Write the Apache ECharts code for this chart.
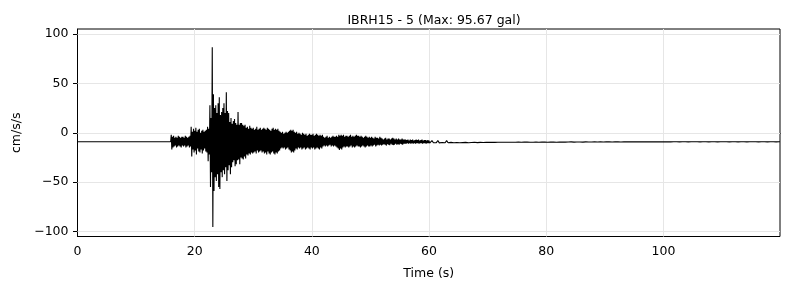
<!DOCTYPE html>
<html>
<head>
<meta charset="utf-8">
<script src="https://cdn.jsdelivr.net/npm/echarts@6/dist/echarts.min.js"></script>
<style>
html,body{margin:0;padding:0;background:#fff;}
#c{width:790px;height:290px;}
</style>
</head>
<body>
<div id="c"></div>
<script>
// ---- data ----
const titleText = 'IBRH15 - 5 (Max: 95.67 gal)';
const xTicks = [0, 20, 40, 60, 80, 100];
const yTicks = [-100, -50, 0, 50, 100];
const xMax = 119.9;
const yLim = 105.2;
const baseline = -9.1;          // pre-event level (cm/s/s)
const onsetTime = 15.9;

// strong-motion part: peaks (hi) and troughs (lo) every 0.2 s from 16.0 s to 60.0 s
const segA_t0 = 16.0, segA_dt = 0.2;
const segA_hi = [
  -2, -4, -3, -5, -4, -5, -3, -4, -5, -4,
  -4, -5, -3, -4, -5, -4, -3, 6, 1, 4,
  2, 5, 1, 3, 4, 0, 2, 3, 1, 2,
  3, 6, 4, 28, 15, 86.6, 39, 25, 28, 20,
  30, 36, 18, 21, 25, 30, 20, 41, 22, 20,
  11, 15, 9, 12, 14, 10, 8, 21, 8, 10,
  10, 8, 7, 8, 5, 6, 4, 7, 5, 4,
  5, 3, 4, 6, 3, 4, 5, 3, 4, 5,
  4, 3, 5, 4, 3, 2, 4, 5, 3, 4,
  3, 4, 2, 1, 0, 1, -1, 0, 1, 0,
  1, 2, 3, 2, 3, 1, 0, 1, -1, 0,
  -1, -2, 0, -1, -2, -1, -3, -2, -1, -2,
  -2, -1, -3, -2, -1, -2, -3, -2, -3, -2,
  -4, -5, -4, -3, -5, -4, -5, -4, -3, -4,
  -4, -3, -4, -2, -3, -2, -3, -2, -4, -3,
  -3, -4, -3, -2, -4, -3, -4, -3, -2, -3,
  -3, -4, -3, -4, -5, -4, -3, -4, -5, -4,
  -5, -4, -5, -6, -4, -5, -5, -6, -4, -5,
  -6, -7, -6, -5, -7, -6, -6, -7, -6, -5,
  -6, -7, -6, -7, -6, -7, -7, -6, -7, -7,
  -7, -7.5, -7, -8, -7, -7.5, -7, -8, -7.5, -7,
  -7.5, -7, -8, -7.5, -7, -8, -7.5, -7.5, -8, -7.5,
  -8
];
const segA_lo = [
  -17, -15, -14, -13, -15, -14, -13, -14, -15, -13,
  -14, -13, -15, -14, -13, -15, -14, -24, -17, -20,
  -18, -22, -16, -19, -20, -17, -21, -18, -16, -19,
  -20, -29, -22, -55, -40, -95.67, -59, -45, -49, -42,
  -55, -57, -40, -45, -38, -42, -35, -49, -38, -33,
  -42, -35, -30, -28, -34, -32, -28, -27, -32, -25,
  -26, -27, -24, -26, -22, -23, -21, -22, -20, -21,
  -20, -19, -21, -18, -20, -19, -18, -20, -19, -21,
  -20, -22, -19, -21, -22, -20, -19, -21, -22, -20,
  -21, -19, -18, -16, -15, -16, -15, -17, -16, -15,
  -17, -18, -20, -19, -20, -18, -16, -17, -15, -16,
  -15, -17, -16, -15, -17, -16, -15, -16, -17, -15,
  -16, -15, -17, -16, -15, -16, -17, -15, -16, -14,
  -13, -14, -13, -14, -13, -12, -14, -13, -14, -13,
  -14, -15, -16, -17.5, -16, -17, -15, -14, -15, -14,
  -14, -15, -14, -13, -15, -14, -15, -14, -13, -14,
  -14, -15, -14, -13, -14, -15, -14, -13, -14, -14,
  -13, -14, -13, -12, -14, -13, -12, -13, -12, -13,
  -12, -11.5, -12, -13, -11.5, -12, -12.5, -11, -12, -12.5,
  -12, -11, -12, -11.5, -12, -11, -11.5, -12, -11, -11,
  -11, -10.5, -11, -10.5, -11, -10.5, -11, -10.5, -11, -10.5,
  -10.5, -11, -10.5, -10.5, -11, -10.5, -10.5, -11, -10.5, -10.5,
  -10.5
];

// coda: peaks/troughs every 0.5 s from 60.5 s to 119.5 s
const segB_t0 = 60.5, segB_dt = 0.5;
const segB_hi = [
  -8.0, -8.2, -7.9, -8.3, -8.1, -8.0, -8.4, -8.1, -8.2, -8.0,
  -8.2, -8.4, -8.1, -8.3, -8.5, -8.2, -8.4, -8.3, -8.5, -8.4,
  -8.5, -8.4, -8.6, -8.5, -8.6, -8.5, -8.6, -8.6, -8.5, -8.7,
  -8.6, -8.7, -8.7, -8.6, -8.6, -8.7, -8.6, -8.7, -8.8, -8.6,
  -8.7, -8.8, -8.6, -8.7, -8.8, -8.7, -8.8, -8.9, -8.7, -8.8,
  -8.8, -8.7, -8.9, -8.8, -8.8, -8.9, -8.8, -8.9, -8.8, -8.9,
  -8.9, -8.8, -8.9, -8.9, -8.8, -8.9, -9.0, -8.9, -8.9, -8.9,
  -8.9, -9.0, -8.9, -8.9, -9.0, -8.9, -9.0, -8.9, -9.0, -8.9,
  -9.0, -8.95, -9.0, -9.0, -8.95, -9.0, -9.0, -8.95, -9.0, -9.0,
  -9.0, -8.95, -9.0, -9.0, -8.95, -9.0, -9.0, -8.95, -9.0, -9.0,
  -9.0, -8.95, -9.0, -9.0, -8.95, -9.0, -9.0, -8.95, -9.0, -9.0,
  -9.0, -8.95, -9.0, -9.0, -8.95, -9.0, -9.0, -8.95, -9.0
];
const segB_lo = [
  -10.2, -10.0, -10.3, -9.9, -10.1, -10.2, -9.8, -10.1, -10.0, -10.2,
  -10.0, -9.8, -10.1, -9.9, -9.7, -10.0, -9.8, -9.9, -9.7, -9.8,
  -9.7, -9.8, -9.6, -9.7, -9.6, -9.7, -9.6, -9.6, -9.7, -9.5,
  -9.6, -9.5, -9.5, -9.6, -9.6, -9.5, -9.6, -9.5, -9.4, -9.6,
  -9.5, -9.4, -9.6, -9.5, -9.4, -9.5, -9.4, -9.3, -9.5, -9.4,
  -9.4, -9.5, -9.3, -9.4, -9.4, -9.3, -9.4, -9.3, -9.4, -9.3,
  -9.3, -9.4, -9.3, -9.3, -9.4, -9.3, -9.2, -9.3, -9.3, -9.3,
  -9.3, -9.2, -9.3, -9.3, -9.2, -9.3, -9.2, -9.3, -9.2, -9.3,
  -9.2, -9.25, -9.2, -9.2, -9.25, -9.2, -9.2, -9.25, -9.2, -9.2,
  -9.2, -9.25, -9.2, -9.2, -9.25, -9.2, -9.2, -9.25, -9.2, -9.2,
  -9.2, -9.25, -9.2, -9.2, -9.25, -9.2, -9.2, -9.25, -9.2, -9.2,
  -9.2, -9.25, -9.2, -9.2, -9.25, -9.2, -9.2, -9.25, -9.2
];

// ---- build the trace ----
const trace = [[0, baseline], [onsetTime, baseline]];
function addSeg(t0, dt, hi, lo) {
  for (let i = 0; i < hi.length; i++) {
    const t = t0 + i * dt;
    trace.push([+t.toFixed(3), hi[i]]);
    trace.push([+(t + dt / 2).toFixed(3), lo[i]]);
  }
}
addSeg(segA_t0, segA_dt, segA_hi, segA_lo);
addSeg(segB_t0, segB_dt, segB_hi, segB_lo);
trace.push([xMax, baseline]);

const font = 'DejaVu Sans';
const chart = echarts.init(document.getElementById('c'), null, {renderer: 'canvas'});
chart.setOption({
  animation: false,
  backgroundColor: '#fff',
  title: {
    text: titleText,
    left: 429,
    top: 9,
    textAlign: 'center',
    textStyle: {fontFamily: font, fontSize: 12.5, fontWeight: 'normal', color: '#000'}
  },
  grid: {
    left: 77.5, right: 10, top: 29, bottom: 53.5,
    show: true, borderColor: '#000', borderWidth: 1, backgroundColor: 'transparent'
  },
  xAxis: {
    type: 'value', min: 0, max: xMax, interval: 20,
    name: 'Time (s)', nameLocation: 'middle', nameGap: 30.5,
    nameTextStyle: {fontFamily: font, fontSize: 12.5, color: '#000'},
    axisLine: {show: true, lineStyle: {color: '#000', width: 1}},
    axisTick: {show: true, customValues: xTicks, length: 4.5, lineStyle: {color: '#000', width: 1}},
    axisLabel: {customValues: xTicks, margin: 9, fontFamily: font, fontSize: 12.5, color: '#000'},
    splitLine: {show: false}
  },
  yAxis: {
    type: 'value', min: -yLim, max: yLim,
    name: 'cm/s/s', nameLocation: 'middle', nameGap: 54,
    nameTextStyle: {fontFamily: font, fontSize: 12.5, color: '#000'},
    axisLine: {show: true, lineStyle: {color: '#000', width: 1}},
    axisTick: {show: true, customValues: yTicks, length: 4.5, lineStyle: {color: '#000', width: 1}},
    axisLabel: {customValues: yTicks, margin: 9, fontFamily: font, fontSize: 12.5, color: '#000',
      formatter: v => (v < 0 ? '\u2212' + Math.abs(v) : String(v))},
    splitLine: {show: false}
  },
  series: [
    {
      type: 'line', data: [], z: 1, zlevel: 0, silent: true,
      markLine: {
        silent: true, symbol: 'none', animation: false,
        label: {show: false},
        lineStyle: {color: '#e6e6e6', width: 1, type: 'solid'},
        data: yTicks.map(v => ({yAxis: v})).concat(xTicks.filter(v => v > 0).map(v => ({xAxis: v})))
      }
    },
    {
      type: 'line', data: trace, z: 5, zlevel: 1, showSymbol: false, symbol: 'none',
      sampling: null, silent: true,
      lineStyle: {color: '#000', width: 1.1}
    }
  ]
});
</script>
</body>
</html>
